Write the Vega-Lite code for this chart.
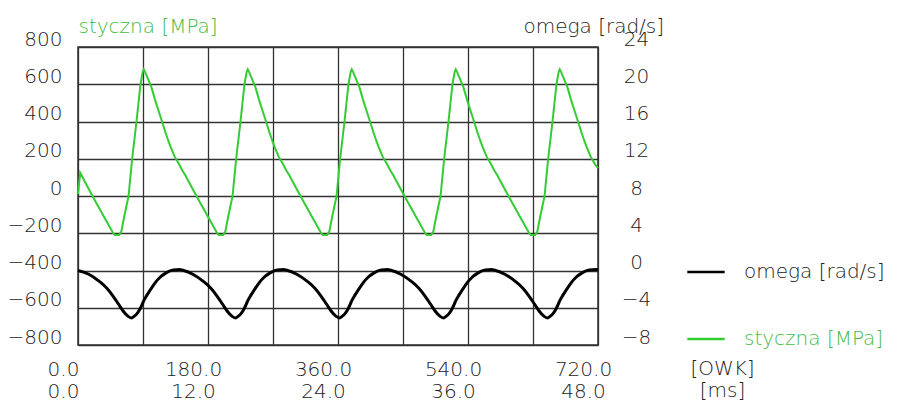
{
  "$schema": "https://vega.github.io/schema/vega-lite/v6.json",
  "width": 520,
  "height": 298,
  "autosize": "none",
  "padding": {"left": 78, "top": 47, "right": 320, "bottom": 58},
  "background": "white",
  "datasets": {
    "s": [
      {"deg": 0, "styczna": 10}, {"deg": 3, "styczna": 125}, {"deg": 20, "styczna": 0}, {"deg": 35, "styczna": -105}, {"deg": 48, "styczna": -195}, {"deg": 51, "styczna": -210}, {"deg": 57, "styczna": -210}, {"deg": 60, "styczna": -190}, {"deg": 64, "styczna": -110}, {"deg": 70, "styczna": 0}, {"deg": 75, "styczna": 200}, {"deg": 81, "styczna": 400}, {"deg": 86.5, "styczna": 600}, {"deg": 89.5, "styczna": 665}, {"deg": 91, "styczna": 680}, {"deg": 93, "styczna": 665}, {"deg": 101.5, "styczna": 586}, {"deg": 108, "styczna": 500}, {"deg": 115, "styczna": 416}, {"deg": 122, "styczna": 330}, {"deg": 128, "styczna": 265}, {"deg": 134, "styczna": 210}, {"deg": 140, "styczna": 170},
      {"deg": 144, "styczna": 140}, {"deg": 148, "styczna": 115}, {"deg": 164, "styczna": 0}, {"deg": 179, "styczna": -105}, {"deg": 192, "styczna": -195}, {"deg": 195, "styczna": -210}, {"deg": 201, "styczna": -210}, {"deg": 204, "styczna": -190}, {"deg": 208, "styczna": -110}, {"deg": 214, "styczna": 0}, {"deg": 219, "styczna": 200}, {"deg": 225, "styczna": 400}, {"deg": 230.5, "styczna": 600}, {"deg": 233.5, "styczna": 665}, {"deg": 235, "styczna": 680}, {"deg": 237, "styczna": 665}, {"deg": 245.5, "styczna": 586}, {"deg": 252, "styczna": 500}, {"deg": 259, "styczna": 416}, {"deg": 266, "styczna": 330}, {"deg": 272, "styczna": 265}, {"deg": 278, "styczna": 210}, {"deg": 284, "styczna": 170},
      {"deg": 288, "styczna": 140}, {"deg": 292, "styczna": 115}, {"deg": 308, "styczna": 0}, {"deg": 323, "styczna": -105}, {"deg": 336, "styczna": -195}, {"deg": 339, "styczna": -210}, {"deg": 345, "styczna": -210}, {"deg": 348, "styczna": -190}, {"deg": 352, "styczna": -110}, {"deg": 358, "styczna": 0}, {"deg": 363, "styczna": 200}, {"deg": 369, "styczna": 400}, {"deg": 374.5, "styczna": 600}, {"deg": 377.5, "styczna": 665}, {"deg": 379, "styczna": 680}, {"deg": 381, "styczna": 665}, {"deg": 389.5, "styczna": 586}, {"deg": 396, "styczna": 500}, {"deg": 403, "styczna": 416}, {"deg": 410, "styczna": 330}, {"deg": 416, "styczna": 265}, {"deg": 422, "styczna": 210}, {"deg": 428, "styczna": 170},
      {"deg": 432, "styczna": 140}, {"deg": 436, "styczna": 115}, {"deg": 452, "styczna": 0}, {"deg": 467, "styczna": -105}, {"deg": 480, "styczna": -195}, {"deg": 483, "styczna": -210}, {"deg": 489, "styczna": -210}, {"deg": 492, "styczna": -190}, {"deg": 496, "styczna": -110}, {"deg": 502, "styczna": 0}, {"deg": 507, "styczna": 200}, {"deg": 513, "styczna": 400}, {"deg": 518.5, "styczna": 600}, {"deg": 521.5, "styczna": 665}, {"deg": 523, "styczna": 680}, {"deg": 525, "styczna": 665}, {"deg": 533.5, "styczna": 586}, {"deg": 540, "styczna": 500}, {"deg": 547, "styczna": 416}, {"deg": 554, "styczna": 330}, {"deg": 560, "styczna": 265}, {"deg": 566, "styczna": 210}, {"deg": 572, "styczna": 170},
      {"deg": 576, "styczna": 140}, {"deg": 580, "styczna": 115}, {"deg": 596, "styczna": 0}, {"deg": 611, "styczna": -105}, {"deg": 624, "styczna": -195}, {"deg": 627, "styczna": -210}, {"deg": 633, "styczna": -210}, {"deg": 636, "styczna": -190}, {"deg": 640, "styczna": -110}, {"deg": 646, "styczna": 0}, {"deg": 651, "styczna": 200}, {"deg": 657, "styczna": 400}, {"deg": 662.5, "styczna": 600}, {"deg": 665.5, "styczna": 665}, {"deg": 667, "styczna": 680}, {"deg": 669, "styczna": 665}, {"deg": 677.5, "styczna": 586}, {"deg": 684, "styczna": 500}, {"deg": 691, "styczna": 416}, {"deg": 698, "styczna": 330}, {"deg": 704, "styczna": 265}, {"deg": 710, "styczna": 210}, {"deg": 716, "styczna": 170}, {"deg": 720, "styczna": 150}
    ],
    "o": [
      {"deg": 0, "omega": 0.0}, {"deg": 15, "omega": -0.4}, {"deg": 30, "omega": -1.2}, {"deg": 40, "omega": -1.9}, {"deg": 49, "omega": -2.8}, {"deg": 56, "omega": -3.6}, {"deg": 63, "omega": -4.4}, {"deg": 69, "omega": -4.9}, {"deg": 74, "omega": -5.1}, {"deg": 78, "omega": -4.9}, {"deg": 82, "omega": -4.6}, {"deg": 86, "omega": -4.1}, {"deg": 92, "omega": -3.1}, {"deg": 100, "omega": -2.1}, {"deg": 107, "omega": -1.3}, {"deg": 114, "omega": -0.7}, {"deg": 122, "omega": -0.25}, {"deg": 132, "omega": 0.05}, {"deg": 141, "omega": 0.1},
      {"deg": 144, "omega": 0.05}, {"deg": 159, "omega": -0.4}, {"deg": 174, "omega": -1.2}, {"deg": 184, "omega": -1.9}, {"deg": 193, "omega": -2.8}, {"deg": 200, "omega": -3.6}, {"deg": 207, "omega": -4.4}, {"deg": 213, "omega": -4.9}, {"deg": 218, "omega": -5.1}, {"deg": 222, "omega": -4.9}, {"deg": 226, "omega": -4.6}, {"deg": 230, "omega": -4.1}, {"deg": 236, "omega": -3.1}, {"deg": 244, "omega": -2.1}, {"deg": 251, "omega": -1.3}, {"deg": 258, "omega": -0.7}, {"deg": 266, "omega": -0.25}, {"deg": 276, "omega": 0.05}, {"deg": 285, "omega": 0.1},
      {"deg": 288, "omega": 0.05}, {"deg": 303, "omega": -0.4}, {"deg": 318, "omega": -1.2}, {"deg": 328, "omega": -1.9}, {"deg": 337, "omega": -2.8}, {"deg": 344, "omega": -3.6}, {"deg": 351, "omega": -4.4}, {"deg": 357, "omega": -4.9}, {"deg": 362, "omega": -5.1}, {"deg": 366, "omega": -4.9}, {"deg": 370, "omega": -4.6}, {"deg": 374, "omega": -4.1}, {"deg": 380, "omega": -3.1}, {"deg": 388, "omega": -2.1}, {"deg": 395, "omega": -1.3}, {"deg": 402, "omega": -0.7}, {"deg": 410, "omega": -0.25}, {"deg": 420, "omega": 0.05}, {"deg": 429, "omega": 0.1},
      {"deg": 432, "omega": 0.05}, {"deg": 447, "omega": -0.4}, {"deg": 462, "omega": -1.2}, {"deg": 472, "omega": -1.9}, {"deg": 481, "omega": -2.8}, {"deg": 488, "omega": -3.6}, {"deg": 495, "omega": -4.4}, {"deg": 501, "omega": -4.9}, {"deg": 506, "omega": -5.1}, {"deg": 510, "omega": -4.9}, {"deg": 514, "omega": -4.6}, {"deg": 518, "omega": -4.1}, {"deg": 524, "omega": -3.1}, {"deg": 532, "omega": -2.1}, {"deg": 539, "omega": -1.3}, {"deg": 546, "omega": -0.7}, {"deg": 554, "omega": -0.25}, {"deg": 564, "omega": 0.05}, {"deg": 573, "omega": 0.1},
      {"deg": 576, "omega": 0.05}, {"deg": 591, "omega": -0.4}, {"deg": 606, "omega": -1.2}, {"deg": 616, "omega": -1.9}, {"deg": 625, "omega": -2.8}, {"deg": 632, "omega": -3.6}, {"deg": 639, "omega": -4.4}, {"deg": 645, "omega": -4.9}, {"deg": 650, "omega": -5.1}, {"deg": 654, "omega": -4.9}, {"deg": 658, "omega": -4.6}, {"deg": 662, "omega": -4.1}, {"deg": 668, "omega": -3.1}, {"deg": 676, "omega": -2.1}, {"deg": 683, "omega": -1.3}, {"deg": 690, "omega": -0.7}, {"deg": 698, "omega": -0.25}, {"deg": 708, "omega": 0.05}, {"deg": 717, "omega": 0.1}, {"deg": 720, "omega": 0.08}
    ]
  },
  "config": {
    "view": {"stroke": "#333333", "strokeWidth": 1.5},
    "axis": {
      "labelFont": "DejaVu Sans",
      "labelFontSize": 20,
      "labelFontWeight": 200,
      "labelColor": "#222222",
      "titleFont": "DejaVu Sans",
      "titleFontSize": 20,
      "titleFontWeight": 200,
      "titleColor": "#222222",
      "domain": false,
      "ticks": false,
      "gridColor": "#333333",
      "gridWidth": 1.3,
      "gridOpacity": 1
    }
  },
  "layer": [
    {
      "data": {"name": "s"},
      "mark": {"type": "line", "strokeWidth": 2},
      "encoding": {
        "x": {
          "field": "deg",
          "type": "quantitative",
          "scale": {"domain": [0, 720], "nice": false, "zero": false},
          "axis": {
            "values": [0, 90, 180, 270, 360, 450, 540, 630, 720],
            "labelExpr": "datum.value % 180 == 0 ? [format(datum.value, '.1f'), format(datum.value / 15, '.1f')] : ''",
            "labelLineHeight": 22,
            "labelBaseline": "top",
            "labelPadding": 14,
            "labelOffset": -15,
            "labelOverlap": false,
            "labelFlush": false,
            "labelBound": false,
            "grid": true,
            "title": ["[OWK]", "[ms]"],
            "titleLineHeight": 22,
            "titleX": 644,
            "titleY": 13,
            "titleAlign": "center",
            "titleBaseline": "top"
          }
        },
        "y": {
          "field": "styczna",
          "type": "quantitative",
          "scale": {"domain": [-800, 800], "nice": false, "zero": false},
          "axis": {
            "orient": "left",
            "values": [-800, -600, -400, -200, 0, 200, 400, 600, 800],
            "labelPadding": 16,
            "labelOffset": -8,
            "labelBaseline": "middle",
            "grid": true,
            "title": "styczna [MPa]",
            "titleAngle": 0,
            "titleX": 0,
            "titleY": -21,
            "titleAlign": "left",
            "titleBaseline": "middle",
            "titleColor": "#44bb44"
          }
        },
        "color": {
          "datum": "styczna [MPa]",
          "type": "nominal",
          "scale": {"domain": ["omega [rad/s]", "styczna [MPa]"], "range": ["#000000", "#33cc33"]},
          "legend": {
            "orient": "none",
            "legendX": 608,
            "legendY": 205,
            "title": null,
            "symbolType": "stroke",
            "symbolSize": 1400,
            "symbolStrokeWidth": 2.5,
            "labelFont": "DejaVu Sans",
            "labelFontSize": 20,
            "labelFontWeight": 200,
            "labelOffset": 18,
            "rowPadding": 37,
            "labelColor": {"expr": "datum.label == 'styczna [MPa]' ? '#44bb44' : '#222222'"}
          }
        }
      }
    },
    {
      "data": {"name": "o"},
      "mark": {"type": "line", "strokeWidth": 3, "interpolate": "monotone"},
      "encoding": {
        "x": {"field": "deg", "type": "quantitative"},
        "y": {
          "field": "omega",
          "type": "quantitative",
          "scale": {"domain": [-8, 24], "nice": false, "zero": false},
          "axis": {
            "orient": "right",
            "values": [-8, -4, 0, 4, 8, 12, 16, 20, 24],
            "labelAlign": "center",
            "labelPadding": 38,
            "labelOffset": -8,
            "labelBaseline": "middle",
            "grid": false,
            "title": "omega [rad/s]",
            "titleAngle": 0,
            "titleX": -75,
            "titleY": -21,
            "titleAlign": "left",
            "titleBaseline": "middle"
          }
        },
        "color": {"datum": "omega [rad/s]", "type": "nominal"}
      }
    }
  ],
  "resolve": {"scale": {"y": "independent"}}
}
